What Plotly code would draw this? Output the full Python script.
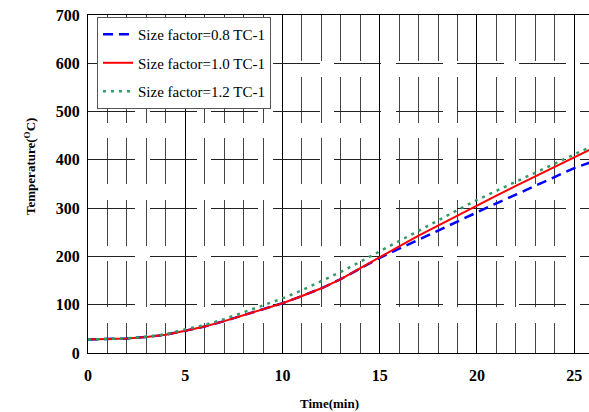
import plotly.graph_objects as go

time_min = [0, 1, 2, 3, 4, 5, 6, 7, 8, 9, 10, 11, 12, 13, 14, 15, 16, 17, 18, 19, 20, 21, 22, 23, 24, 25, 26]
temp_08 = [28, 28.5, 30, 33, 38, 46, 55, 66, 78, 90, 103, 118, 134, 153, 175, 197, 216, 235, 254, 273, 292, 310, 328, 346, 365, 383, 397]
temp_10 = [28, 28.5, 30, 33, 38, 46, 55, 66, 78, 90, 103, 118, 134, 153, 176, 199, 221, 243, 264, 285, 306, 326, 346, 366, 386, 406, 425]
temp_12 = [28, 28.7, 30.5, 34, 39, 49, 58, 70, 84, 98, 113, 130, 149, 168, 189, 211, 232, 253, 275, 296, 317, 336, 355, 374, 393, 412, 430]
names = ["Size factor=0.8 TC-1", "Size factor=1.0 TC-1", "Size factor=1.2 TC-1"]
x_ticks = [0, 5, 10, 15, 20, 25]
y_ticks = [0, 100, 200, 300, 400, 500, 600, 700]

fig = go.Figure()
fig.add_trace(go.Scatter(x=time_min, y=temp_08, mode="lines", name=names[0], legendgroup="a",
                         line=dict(color="#0000ff", width=2.5, dash="10px,6px")))
fig.add_trace(go.Scatter(x=time_min, y=temp_10, mode="lines", name=names[1], legendgroup="b",
                         line=dict(color="#ff0000", width=2)))
fig.add_trace(go.Scatter(x=time_min, y=temp_12, mode="lines", name=names[2], legendgroup="c",
                         line=dict(color="#339966", width=2.5, dash="3px,5px")))

tickfont = dict(family="Liberation Serif", size=16, color="black", weight="bold")

fig.update_layout(
    width=589, height=412,
    margin=dict(l=88, r=0, t=15, b=59),
    paper_bgcolor="white", plot_bgcolor="white",
    showlegend=True,
    legend=dict(x=0.018, y=0.994, xanchor="left", yanchor="top",
                bgcolor="white", bordercolor="#555", borderwidth=1,
                font=dict(family="Liberation Serif", size=15, color="black"),
                tracegroupgap=6),
    xaxis=dict(range=[0, 25.76], tickvals=x_ticks, ticktext=[str(v) for v in x_ticks],
               showgrid=True, gridcolor="black", gridwidth=1,
               minor=dict(dtick=1, tick0=0, showgrid=True, gridcolor="#444", gridwidth=1,
                          griddash="46px,15.5px"),
               showline=True, linecolor="black", linewidth=1, mirror=True,
               ticks="", zeroline=False, tickfont=tickfont, ticklabelstandoff=8),
    yaxis=dict(range=[0, 700], tickvals=y_ticks, ticktext=[str(v) for v in y_ticks],
               showgrid=True, gridcolor="#222", gridwidth=1, griddash="47px,14.5px",
               showline=True, linecolor="black", linewidth=1, mirror=False,
               ticks="", zeroline=False, tickfont=tickfont, ticklabelstandoff=4),
    annotations=[
        dict(text="Time(min)", xref="paper", yref="paper", x=0.482, y=-0.148,
             xanchor="center", yanchor="middle", showarrow=False,
             font=dict(family="Liberation Serif", size=13, color="black", weight="bold")),
        dict(text="Temperature(<sup>O</sup>C)", xref="paper", yref="paper", x=-0.116, y=0.553,
             xanchor="center", yanchor="middle", showarrow=False, textangle=-90,
             font=dict(family="Liberation Serif", size=13, color="black", weight="bold")),
    ],
)

fig.write_html("out.html")
